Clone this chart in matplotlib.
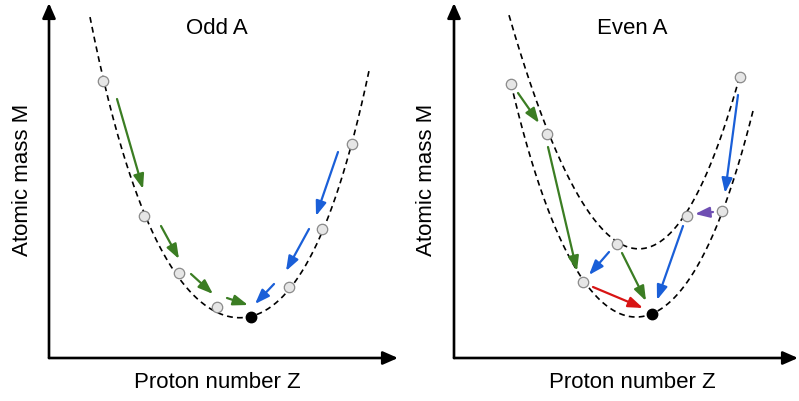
import numpy as np
import matplotlib
matplotlib.use("Agg")
import matplotlib.pyplot as plt

plt.rcParams['font.family'] = ['Liberation Sans', 'DejaVu Sans']

# ---- data (Z, M in arbitrary units) ----
# odd A: one mass parabola
odd_curve_z = [4.1, 5.4, 9.5, 13.0, 16.8, 20.2, 24.0, 27.3, 30.3, 32.0]
odd_curve_m = [34.4, 27.7, 14.2, 8.5, 5.1, 4.1, 7.1, 12.9, 21.4, 28.7]
odd_nuclide_z = [5.4, 9.5, 13.0, 16.8, 24.0, 27.3, 30.3]
odd_nuclide_m = [27.7, 14.2, 8.5, 5.1, 7.1, 12.9, 21.4]
odd_stable_z = [20.2]
odd_stable_m = [4.1]

# decays: (z0, m0, z1, m1)
odd_beta_minus = [(6.8, 25.9, 9.4, 16.9), (11.2, 13.2, 13.0, 9.9),
                  (14.2, 8.4, 16.4, 6.4), (17.8, 6.0, 19.9, 5.3)]
odd_beta_plus = [(28.9, 20.6, 26.7, 14.2), (26.0, 12.9, 23.7, 8.7),
                 (22.5, 7.4, 20.6, 5.4)]

# even A: odd-odd (upper) and even-even (lower) parabolas
oo_curve_z = [5.5, 9.3, 12.8, 16.3, 18.6, 23.3, 25.6, 28.6]
oo_curve_m = [34.4, 22.4, 16.3, 11.4, 10.9, 14.2, 19.8, 28.1]
ee_curve_z = [5.7, 9.1, 12.9, 17.3, 19.8, 22.3, 24.9, 26.8, 29.9]
ee_curve_m = [27.4, 15.8, 7.6, 4.5, 4.4, 6.8, 9.8, 14.7, 24.7]
even_nuclide_z = [5.7, 9.3, 12.9, 16.3, 23.3, 26.8, 28.6]
even_nuclide_m = [27.4, 22.4, 7.6, 11.4, 14.2, 14.7, 28.1]
even_stable_z = [19.8]
even_stable_m = [4.4]

even_beta_minus = [(6.4, 26.5, 8.5, 23.5), (9.4, 21.1, 12.3, 8.7),
                   (16.8, 10.5, 19.2, 5.7)]
even_beta_plus = [(15.5, 10.6, 13.5, 8.3), (22.9, 13.2, 20.3, 5.8),
                  (28.4, 26.3, 27.1, 16.5)]
even_double_beta = [(13.9, 7.1, 18.9, 5.0)]
even_alpha = [(25.9, 14.6, 24.1, 14.4)]

GREEN = '#3b7d23'
BLUE = '#1a5fd8'
RED = '#d81414'
PURPLE = '#6f4fb3'


def draw_curve(ax, zs, ms, pin_z=None):
    # smooth trace through the points,
    # pinned harder at the stable nuclide if given
    w = [4.0 if pin_z is not None and abs(z - pin_z) < 1e-6 else 1.0 for z in zs]
    coef = np.polyfit(zs, ms, 4, w=w)
    z = np.linspace(zs[0], zs[-1], 300)
    ax.plot(z, np.polyval(coef, z), color='black', lw=1.2,
            ls=(0, (3.5, 2.5)), zorder=1)


def draw_arrows(ax, arrows, color):
    for z0, m0, z1, m1 in arrows:
        ax.annotate('', xy=(z1, m1), xytext=(z0, m0),
                    arrowprops=dict(arrowstyle='-|>,head_length=0.55,head_width=0.2',
                                    color=color, lw=1.6,
                                    mutation_scale=16, shrinkA=0, shrinkB=0),
                    zorder=3)


def draw_points(ax, zs, ms, stable_z, stable_m):
    ax.plot(zs, ms, 'o', ms=7.5, mfc='#e6e6e6', mec='#8a8a8a', mew=0.9, zorder=4)
    ax.plot(stable_z, stable_m, 'o', ms=7.5, mfc='black', mec='black', zorder=4)


def setup_axes(ax, xmax, ymax):
    ax.set_xlim(0, xmax)
    ax.set_ylim(0, ymax)
    ax.axis('off')
    style = dict(arrowstyle='-|>,head_length=0.5,head_width=0.22', color='black',
                 lw=1.9, mutation_scale=18, shrinkA=0, shrinkB=0)
    ax.annotate('', xy=(1, 0), xytext=(0, 0), xycoords='axes fraction',
                arrowprops=style, annotation_clip=False)
    ax.annotate('', xy=(0, 1), xytext=(0, 0), xycoords='axes fraction',
                arrowprops=style, annotation_clip=False)


W, H = 799, 401
fig = plt.figure(figsize=(W / 100, H / 100), dpi=100)

ax1 = fig.add_axes([49 / W, 43 / H, 349 / W, 355 / H])
setup_axes(ax1, 34.9, 35.5)
draw_curve(ax1, odd_curve_z, odd_curve_m, odd_stable_z[0])
draw_arrows(ax1, odd_beta_minus, GREEN)
draw_arrows(ax1, odd_beta_plus, BLUE)
draw_points(ax1, odd_nuclide_z, odd_nuclide_m, odd_stable_z, odd_stable_m)
ax1.text(16.8, 32.9, 'Odd A', ha='center', va='center', fontsize=16)

ax2 = fig.add_axes([454 / W, 43 / H, 344 / W, 355 / H])
setup_axes(ax2, 34.4, 35.5)
draw_curve(ax2, oo_curve_z, oo_curve_m)
draw_curve(ax2, ee_curve_z, ee_curve_m, even_stable_z[0])
draw_arrows(ax2, even_beta_minus, GREEN)
draw_arrows(ax2, even_beta_plus, BLUE)
draw_arrows(ax2, even_double_beta, RED)
draw_arrows(ax2, even_alpha, PURPLE)
draw_points(ax2, even_nuclide_z, even_nuclide_m, even_stable_z, even_stable_m)
ax2.text(17.8, 32.9, 'Even A', ha='center', va='center', fontsize=16)

fig.text(23 / W, 1 - 180 / H, 'Atomic mass M', rotation=90, ha='center',
         va='center', fontsize=16)
fig.text(427 / W, 1 - 180 / H, 'Atomic mass M', rotation=90, ha='center',
         va='center', fontsize=16)
fig.text(217 / W, 1 - 383 / H, 'Proton number Z', ha='center', va='center',
         fontsize=16)
fig.text(632 / W, 1 - 383 / H, 'Proton number Z', ha='center', va='center',
         fontsize=16)

fig.savefig('out.png', dpi=100)
